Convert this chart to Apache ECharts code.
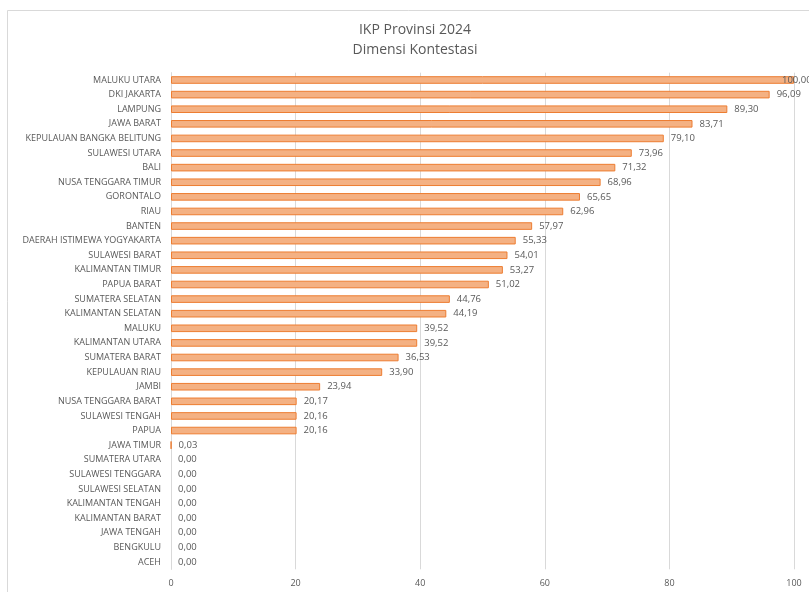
<!DOCTYPE html>
<html><head><meta charset="utf-8">
<script src="https://cdn.jsdelivr.net/npm/echarts@6/dist/echarts.min.js"></script>
<style>html,body{margin:0;padding:0;background:#fff}#c{width:809px;height:592px}</style>
</head><body><div id="c"></div>
<script>
const categories = ["MALUKU UTARA","DKI JAKARTA","LAMPUNG","JAWA BARAT","KEPULAUAN BANGKA BELITUNG","SULAWESI UTARA","BALI","NUSA TENGGARA TIMUR","GORONTALO","RIAU","BANTEN","DAERAH ISTIMEWA YOGYAKARTA","SULAWESI BARAT","KALIMANTAN TIMUR","PAPUA BARAT","SUMATERA SELATAN","KALIMANTAN SELATAN","MALUKU","KALIMANTAN UTARA","SUMATERA BARAT","KEPULAUAN RIAU","JAMBI","NUSA TENGGARA BARAT","SULAWESI TENGAH","PAPUA","JAWA TIMUR","SUMATERA UTARA","SULAWESI TENGGARA","SULAWESI SELATAN","KALIMANTAN TENGAH","KALIMANTAN BARAT","JAWA TENGAH","BENGKULU","ACEH"];
const values = [100.00,96.09,89.30,83.71,79.10,73.96,71.32,68.96,65.65,62.96,57.97,55.33,54.01,53.27,51.02,44.76,44.19,39.52,39.52,36.53,33.90,23.94,20.17,20.16,20.16,0.03,0,0,0,0,0,0,0,0];
const xTicks = [0,20,40,60,80,100];
const titleLines = ["IKP Provinsi 2024","Dimensi Kontestasi"];

const font = "Open Sans";
const maxX = xTicks[xTicks.length-1];
const barData = values.map(v => {
  const item = {value:v};
  if (v === 0) item.itemStyle = {borderWidth:0};
  if (v >= maxX) item.label = {distance:-12};
  return item;
});
const chart = echarts.init(document.getElementById('c'), null, {renderer:'canvas'});
chart.setOption({
  animation:false,
  backgroundColor:'#fff',
  graphic:[{type:'rect',shape:{x:7.5,y:10.5,width:820,height:600},style:{fill:'none',stroke:'#d9d9d9',lineWidth:1},z:-10}],
  title:{text:titleLines.join('\n'),left:410,textAlign:'center',top:15,
    textStyle:{fontFamily:font,fontSize:14,fontWeight:'normal',color:'#595959',lineHeight:20}},
  grid:{left:171,right:15,top:72.7,bottom:22.7,containLabel:false},
  xAxis:{type:'value',min:xTicks[0],max:maxX,interval:20,
    axisLine:{show:false},axisTick:{show:false},
    splitLine:{lineStyle:{color:'#d9d9d9',width:1}},
    axisLabel:{fontFamily:font,fontSize:9,color:'#595959',margin:10}},
  yAxis:{type:'category',data:categories,inverse:true,
    axisLine:{show:true,lineStyle:{color:'#d9d9d9'}},axisTick:{show:false},
    axisLabel:{fontFamily:font,fontSize:9,color:'#595959',margin:10}},
  series:[{type:'bar',data:barData,barWidth:'52%',
    itemStyle:{color:'#f4b183',borderColor:'#ed7d31',borderWidth:1},
    label:{show:true,position:'right',distance:7,fontFamily:font,fontSize:9.5,color:'#595959',
      formatter:p=>p.value.toFixed(2).replace('.',',')}}]
});
</script></body></html>
